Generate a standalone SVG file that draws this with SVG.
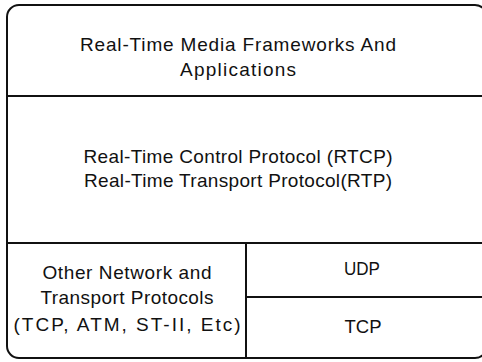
<svg xmlns="http://www.w3.org/2000/svg" width="482" height="362" viewBox="0 0 482 362">
  <style>
    .frame { fill: #ffffff; stroke: #111111; stroke-width: 2; }
    .rule { stroke: #111111; stroke-width: 2; fill: none; }
    .label { font-family: "Liberation Sans", Arial, sans-serif; font-size: 19px; fill: #111111; text-anchor: middle; }
  </style>
  <rect width="482" height="362" fill="#ffffff"/>
  <!-- outer frame -->
  <rect class="frame" x="7" y="5" width="480" height="353" rx="12" ry="12"/>
  <!-- dividers -->
  <g id="connectors">
    <line class="rule" x1="7" y1="96" x2="482" y2="96"/>
    <line class="rule" x1="7" y1="243" x2="482" y2="243"/>
    <line class="rule" x1="246" y1="243" x2="246" y2="358"/>
    <line class="rule" x1="246" y1="297" x2="482" y2="297"/>
  </g>
  <g id="applications">
    <text class="label" x="238" y="51" textLength="316" lengthAdjust="spacing">Real-Time Media Frameworks And</text>
    <text class="label" x="238" y="76" textLength="116" lengthAdjust="spacing">Applications</text>
  </g>
  <g id="rtp">
    <text class="label" x="238" y="163" textLength="309" lengthAdjust="spacing">Real-Time Control Protocol (RTCP)</text>
    <text class="label" x="238" y="187" textLength="308" lengthAdjust="spacing">Real-Time Transport Protocol(RTP)</text>
  </g>
  <g id="other">
    <text class="label" x="127" y="279" textLength="169" lengthAdjust="spacing">Other Network and</text>
    <text class="label" x="127" y="304" textLength="173" lengthAdjust="spacing">Transport Protocols</text>
    <text class="label" x="127" y="331" textLength="227" lengthAdjust="spacing">(TCP, ATM, ST-II, Etc)</text>
  </g>
  <g id="udp">
    <text class="label" x="362" y="275" textLength="36" lengthAdjust="spacingAndGlyphs">UDP</text>
  </g>
  <g id="tcp">
    <text class="label" x="363" y="333" textLength="37" lengthAdjust="spacingAndGlyphs">TCP</text>
  </g>
</svg>
